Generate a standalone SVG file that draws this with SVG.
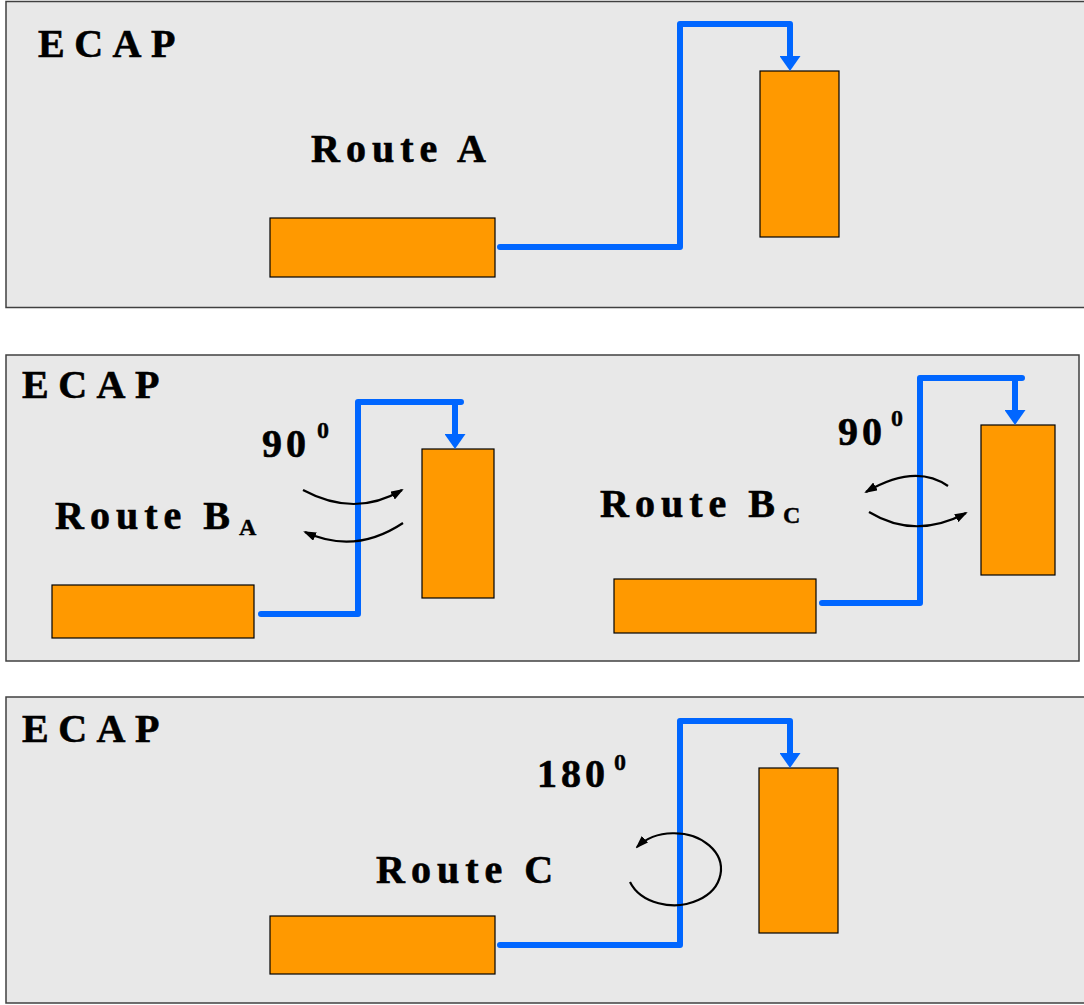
<svg xmlns="http://www.w3.org/2000/svg" width="1084" height="1005" viewBox="0 0 1084 1005">
<style>
.panel{fill:#E8E8E8;stroke:#404040;stroke-width:1.5}
.box{fill:#FF9900;stroke:#000;stroke-width:1.2}
.route{fill:none;stroke:#0066FF;stroke-width:6;stroke-linejoin:round;stroke-linecap:round}
.rot{fill:none;stroke:#000;stroke-width:2.2}
text{font-family:"Liberation Serif","Times New Roman",serif;font-weight:bold;fill:#000;stroke:#000;stroke-width:0.6}
.ecap{font-size:40px;letter-spacing:9.5px}
.lbl{font-size:40px;letter-spacing:6px}
.deg{font-size:40px;letter-spacing:4px}
.sup{font-size:24px;stroke-width:0.4}
.sub{font-size:24px;stroke-width:0.4}
</style>
<defs>
<marker id="blueHead" markerUnits="userSpaceOnUse" viewBox="0 0 15 21" refX="0" refY="10.5" markerWidth="15" markerHeight="21" orient="auto">
<path d="M0,0 L15,10.5 L0,21 z" fill="#0066FF"/>
</marker>
<marker id="blackHead" markerUnits="userSpaceOnUse" viewBox="0 0 13 9" refX="11" refY="4.5" markerWidth="13" markerHeight="9" orient="auto">
<path d="M0,0 L13,4.5 L0,9 z" fill="#000"/>
</marker>
</defs>

<g id="panels">
<rect id="panel-a" class="panel" x="6" y="1.5" width="1085" height="306" style="stroke-dasharray:none"/>
<rect id="panel-b" class="panel" x="6" y="355" width="1073" height="306"/>
<rect id="panel-c" class="panel" x="6" y="697" width="1085" height="306"/>
</g>

<g id="labels">
<text class="ecap" x="38" y="57">ECAP</text>
<text class="lbl" x="311" y="162">Route A</text>

<text class="ecap" x="22" y="398">ECAP</text>
<text class="deg" x="262" y="457">90</text>
<text class="sup" x="317" y="438">0</text>
<text class="lbl" x="55" y="529">Route B</text>
<text class="sub" x="239" y="535">A</text>

<text class="deg" x="838" y="445">90</text>
<text class="sup" x="891" y="426">0</text>
<text class="lbl" x="600" y="517">Route B</text>
<text class="sub" x="783" y="523">C</text>

<text class="ecap" x="22" y="742">ECAP</text>
<text class="deg" x="537" y="787">180</text>
<text class="sup" x="614" y="770">0</text>
<text class="lbl" x="376" y="883">Route C</text>
</g>

<g id="node-a-source"><rect class="box" x="270" y="218" width="225" height="59"/></g>
<g id="node-a-target"><rect class="box" x="760" y="71" width="79" height="166"/></g>
<g id="node-ba-source"><rect class="box" x="52" y="585" width="202" height="53"/></g>
<g id="node-ba-target"><rect class="box" x="422" y="449" width="72" height="149"/></g>
<g id="node-bc-source"><rect class="box" x="614" y="579" width="202" height="54"/></g>
<g id="node-bc-target"><rect class="box" x="981" y="425" width="74" height="150"/></g>
<g id="node-c-source"><rect class="box" x="270" y="916" width="225" height="58"/></g>
<g id="node-c-target"><rect class="box" x="759" y="768" width="79" height="165"/></g>

<g id="connectors">
<path class="route" d="M500,247 H680 V24 H790 V56" marker-end="url(#blueHead)"/>
<path class="route" d="M261,614 H358 V402 H461 M455,402 V434" marker-end="url(#blueHead)"/>
<path class="route" d="M822,603 H920 V378 H1022 M1015,378 V410" marker-end="url(#blueHead)"/>
<path class="route" d="M500,945 H680 V721 H790 V753" marker-end="url(#blueHead)"/>

<path class="rot" d="M303,490 Q355,518 402,490" marker-end="url(#blackHead)"/>
<path class="rot" d="M403,523 Q355,555 305,532" marker-end="url(#blackHead)"/>
<path class="rot" d="M948,486 Q915,463 866,492" marker-end="url(#blackHead)"/>
<path class="rot" d="M869,512 Q915,540 966,513" marker-end="url(#blackHead)"/>
<path class="rot" d="M630,882 A47,36 0 1 0 637,847" marker-end="url(#blackHead)"/>
</g>
</svg>
